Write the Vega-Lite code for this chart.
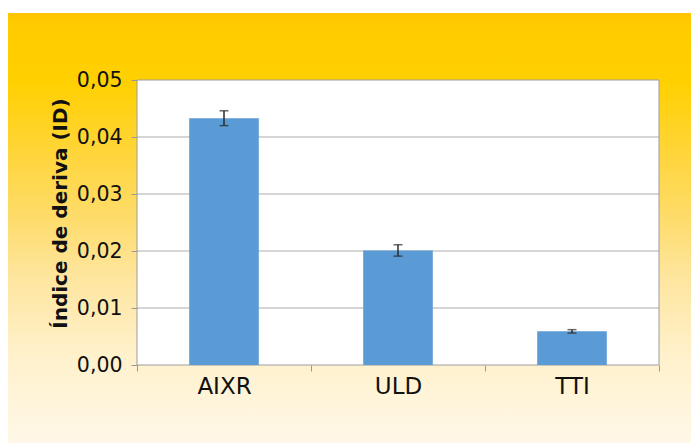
{
  "$schema": "https://vega.github.io/schema/vega-lite/v6.json",
  "width": 683,
  "height": 430,
  "autosize": {"type": "none"},
  "padding": {"left": 8, "top": 13, "right": 0, "bottom": 0},
  "background": "white",
  "view": {
    "stroke": null,
    "fill": {
      "gradient": "linear",
      "x1": 0, "y1": 0, "x2": 0, "y2": 1,
      "stops": [
        {"offset": 0.0, "color": "#FFC400"},
        {"offset": 0.02, "color": "#FFCB00"},
        {"offset": 0.16, "color": "#FFD000"},
        {"offset": 0.32, "color": "#FFD538"},
        {"offset": 0.48, "color": "#FEDC6C"},
        {"offset": 0.62, "color": "#FEE6A0"},
        {"offset": 0.80, "color": "#FFF1CC"},
        {"offset": 1.0, "color": "#FFF8E8"}
      ]
    }
  },
  "config": {"font": "DejaVu Sans"},
  "datasets": {
    "drift": [
      {"cat": "AIXR", "value": 0.0433, "err": 0.0013},
      {"cat": "ULD", "value": 0.0201, "err": 0.0010},
      {"cat": "TTI", "value": 0.0059, "err": 0.0003}
    ],
    "grid": [{"g": 0.01}, {"g": 0.02}, {"g": 0.03}, {"g": 0.04}]
  },
  "layer": [
    {
      "data": {"values": [{}]},
      "mark": {"type": "rect", "fill": "white", "stroke": "#9c9c9c", "strokeWidth": 1},
      "encoding": {
        "x": {
          "datum": "AIXR", "type": "nominal", "bandPosition": 0, "title": null,
          "scale": {"domain": ["AIXR", "ULD", "TTI"], "paddingInner": 0, "paddingOuter": 0.462644, "align": 0.801242},
          "axis": {
            "title": null, "orient": "bottom", "offset": -78, "domain": false, "zindex": 1,
            "ticks": true, "tickBand": "extent", "tickSize": 6, "tickColor": "#999999",
            "labelFontSize": 23, "labelColor": "#111111", "labelPadding": 4, "labelAngle": 0, "grid": false
          }
        },
        "x2": {"datum": "TTI", "bandPosition": 1},
        "y": {
          "datum": 0, "type": "quantitative", "title": "Índice de deriva (ID)",
          "scale": {"domain": [-0.0136842, 0.0617544], "nice": false, "zero": false},
          "axis": {
            "title": "Índice de deriva (ID)",
            "values": [0, 0.01, 0.02, 0.03, 0.04, 0.05],
            "labelExpr": "replace(format(datum.value, '.2f'), '.', ',')",
            "offset": -129, "domain": false, "grid": false, "zindex": 1,
            "tickSize": 6, "tickColor": "#999999",
            "labelFontSize": 20.5, "labelColor": "#111111", "labelPadding": 9,
            "titleFontSize": 20, "titleFontWeight": "bold", "titleColor": "#111111",
            "titlePadding": 6, "titleY": 200
          }
        },
        "y2": {"datum": 0.05}
      }
    },
    {
      "data": {"name": "grid"},
      "mark": {"type": "rule", "color": "#ababab", "strokeWidth": 1},
      "encoding": {
        "x": {"datum": "AIXR", "type": "nominal", "bandPosition": 0, "title": null},
        "x2": {"datum": "TTI", "bandPosition": 1},
        "y": {"field": "g", "type": "quantitative", "title": "Índice de deriva (ID)"}
      }
    },
    {
      "data": {"name": "drift"},
      "mark": {"type": "bar", "width": {"band": 0.4}, "color": "#5b9bd5"},
      "encoding": {
        "x": {"field": "cat", "type": "nominal", "sort": null, "title": null},
        "y": {"field": "value", "type": "quantitative", "title": "Índice de deriva (ID)"},
        "y2": {"datum": 0}
      }
    },
    {
      "data": {"name": "drift"},
      "mark": {
        "type": "errorbar",
        "ticks": {"size": 9, "color": "#2a2a2a", "thickness": 1.5},
        "rule": {"color": "#2a2a2a", "strokeWidth": 1.5}
      },
      "encoding": {
        "x": {"field": "cat", "type": "nominal", "sort": null, "title": null},
        "y": {"field": "value", "type": "quantitative", "title": "Índice de deriva (ID)"},
        "yError": {"field": "err"}
      }
    }
  ]
}
